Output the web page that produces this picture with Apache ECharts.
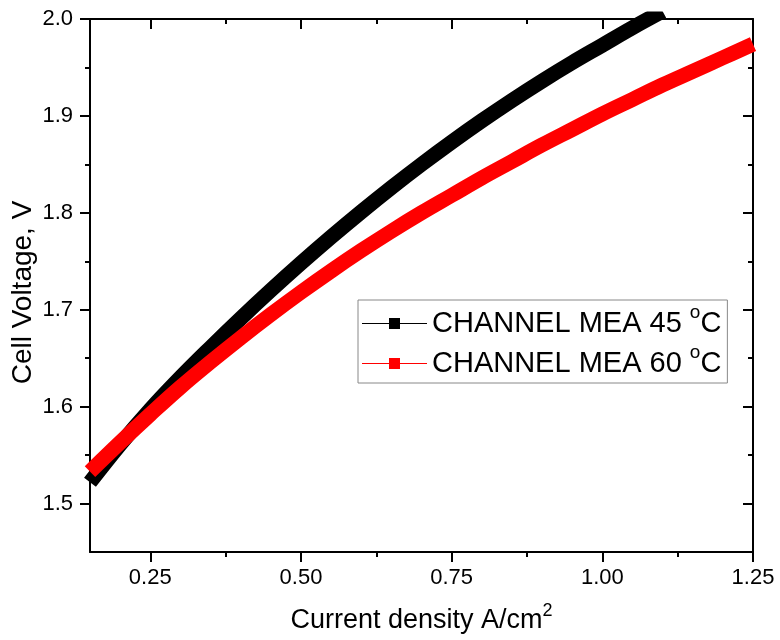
<!DOCTYPE html>
<html>
<head>
<meta charset="utf-8">
<title>Cell voltage vs current density</title>
<script src="https://cdn.jsdelivr.net/npm/echarts@6/dist/echarts.min.js"></script>
<style>
  html, body { margin: 0; padding: 0; background: #fff; }
  #chart { width: 780px; height: 640px; }
</style>
</head>
<body>
<div id="chart"></div>
<script>
// data
var current = [0.15, 0.20, 0.25, 0.30, 0.35, 0.40, 0.45, 0.50, 0.55, 0.60, 0.65, 0.70,
  0.75, 0.80, 0.85, 0.90, 0.95, 1.00, 1.05, 1.10, 1.15, 1.20, 1.25];
var volt45 = [1.522, 1.561, 1.597, 1.630, 1.661, 1.691, 1.720, 1.748, 1.775, 1.801, 1.826, 1.850,
  1.873, 1.895, 1.916, 1.936, 1.955, 1.973, 1.991, 2.008];
var volt60 = [1.533, 1.563, 1.592, 1.620, 1.646, 1.671, 1.695, 1.718, 1.740, 1.761, 1.781, 1.800,
  1.818, 1.836, 1.853, 1.870, 1.886, 1.902, 1.917, 1.932, 1.946, 1.960, 1.974];
var seriesNames = ['CHANNEL MEA 45 °C', 'CHANNEL MEA 60 °C'];
var seriesColors = ['#000000', '#ff0000'];

// ticks
var xMajor = [0.25, 0.50, 0.75, 1.00, 1.25];
var xMinor = [0.375, 0.625, 0.875, 1.125];
var yMajor = [1.5, 1.6, 1.7, 1.8, 1.9, 2.0];
var yMinor = [1.55, 1.65, 1.75, 1.85, 1.95];

var FONT = '"Liberation Sans", Arial, sans-serif';

function pairs(xs, ys) {
  var out = [];
  for (var i = 0; i < ys.length; i++) out.push([xs[i], ys[i]]);
  return out;
}

// raised small text for "o" in oC and the 2 in cm2:
// the padding makes the line taller, the token sits at its top
function sup(size, raise) {
  return { fontFamily: FONT, fontSize: size, lineHeight: size, color: '#000',
    verticalAlign: 'bottom', padding: [0, 0, raise, 0] };
}

// one frame side: ticks only, or ticks + line + labels
function axis(kind, pos, ticks, len, inside, extra) {
  var a = {
    type: 'value',
    position: pos,
    min: kind === 'x' ? 0.15 : 1.45,
    max: kind === 'x' ? 1.25 : 2.0,
    axisLine: { show: false, onZero: false, lineStyle: { color: '#000', width: 2 } },
    axisTick: { show: true, inside: inside, length: len, customValues: ticks,
      lineStyle: { color: '#000', width: 2 } },
    axisLabel: { show: false },
    splitLine: { show: false }
  };
  if (extra) {
    for (var k in extra) a[k] = extra[k];
  }
  return a;
}

var chart = echarts.init(document.getElementById('chart'));

chart.setOption({
  animation: false,
  backgroundColor: '#fff',
  grid: { left: 90, right: 27, top: 19, bottom: 88, containLabel: false, outerBoundsMode: 'none' },
  legend: {
    orient: 'vertical',
    left: 358,
    top: 300,
    padding: [3, 6, 5, 4],
    itemGap: 5,
    itemWidth: 65,
    itemHeight: 11,
    borderColor: '#888',
    borderWidth: 1,
    icon: 'path://M0,5h27v1H0z M27,0h11v11H27z M38,5h27v1H38z',
    itemStyle: { borderWidth: 0 },
    data: seriesNames,
    formatter: function (name) { return name.replace('°C', '{sup|o}C'); },
    textStyle: {
      fontFamily: FONT, fontSize: 29, lineHeight: 29, color: '#000',
      rich: { sup: sup(19, 16) }
    }
  },
  xAxis: [
    axis('x', 'bottom', xMajor, 10, false, {
      axisLine: { show: true, onZero: false, lineStyle: { color: '#000', width: 2 } },
      axisLabel: {
        show: true, customValues: xMajor, margin: 15, color: '#000',
        fontFamily: FONT, fontSize: 22,
        formatter: function (v) { return v.toFixed(2); }
      },
      name: 'Current density A/cm{sup|2}',
      nameLocation: 'middle',
      nameGap: 55,
      nameMoveOverlap: false,
      nameTextStyle: {
        fontFamily: FONT, fontSize: 27, lineHeight: 27, color: '#000',
        rich: { sup: sup(18, 14) }
      }
    }),
    axis('x', 'bottom', xMinor, 5, false),
    axis('x', 'top', xMajor, 10, true, {
      axisLine: { show: true, onZero: false, lineStyle: { color: '#000', width: 2 } }
    }),
    axis('x', 'top', xMinor, 5, true)
  ],
  yAxis: [
    axis('y', 'left', yMajor, 10, false, {
      axisLine: { show: true, onZero: false, lineStyle: { color: '#000', width: 2 } },
      axisLabel: {
        show: true, customValues: yMajor, margin: 17, color: '#000',
        fontFamily: FONT, fontSize: 22,
        formatter: function (v) { return v.toFixed(1); }
      },
      name: 'Cell Voltage, V',
      nameLocation: 'middle',
      nameGap: 53,
      nameMoveOverlap: false,
      nameTextStyle: { fontFamily: FONT, fontSize: 28, color: '#000', padding: [0, 14, 0, 0] }
    }),
    axis('y', 'left', yMinor, 5, false),
    axis('y', 'right', yMajor, 10, true, {
      axisLine: { show: true, onZero: false, lineStyle: { color: '#000', width: 2 } }
    }),
    axis('y', 'right', yMinor, 5, true)
  ],
  series: [
    {
      name: seriesNames[0],
      type: 'line',
      data: pairs(current, volt45),
      smooth: 0.4,
      showSymbol: false,
      color: seriesColors[0],
      lineStyle: { color: seriesColors[0], width: 15 }
    },
    {
      name: seriesNames[1],
      type: 'line',
      data: pairs(current, volt60),
      smooth: 0.4,
      showSymbol: false,
      color: seriesColors[1],
      lineStyle: { color: seriesColors[1], width: 15 }
    }
  ]
});
</script>
</body>
</html>
